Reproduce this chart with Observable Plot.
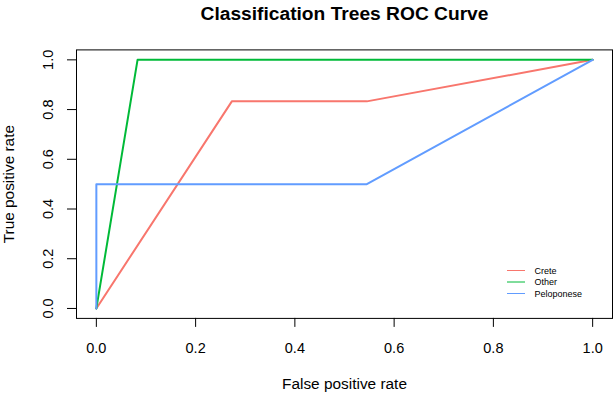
<!DOCTYPE html>
<html>
<head>
<meta charset="utf-8">
<script src="https://cdn.jsdelivr.net/npm/d3@7"></script>
<script src="https://cdn.jsdelivr.net/npm/@observablehq/plot@0.6"></script>
<style>
  html, body { margin: 0; padding: 0; background: #fff; }
  #wrap { position: relative; width: 615px; height: 396px; font-family: "Liberation Sans", Arial, sans-serif; }
  #legend { position: absolute; left: 0; top: 0; pointer-events: none; }
</style>
</head>
<body>
<div id="wrap"></div>
<script>
// ---- data ----
const series = ["Crete", "Other", "Peloponese"];
const colors = ["#F8766D", "#00BA38", "#619CFF"];
const creteFPR = [0, 0.273, 0.545, 1];
const creteTPR = [0, 0.833, 0.833, 1];
const otherFPR = [0, 0.083, 1];
const otherTPR = [0, 1, 1];
const peloFPR = [0, 0, 0.545, 1];
const peloTPR = [0, 0.5, 0.5, 1];
const xTicks = [0, 0.2, 0.4, 0.6, 0.8, 1.0];
const yTicks = [0, 0.2, 0.4, 0.6, 0.8, 1.0];
const title = "Classification Trees ROC Curve";
const xLabel = "False positive rate";
const yLabel = "True positive rate";

const rows = [];
[[creteFPR, creteTPR], [otherFPR, otherTPR], [peloFPR, peloTPR]].forEach(([fx, ty], i) => {
  fx.forEach((v, j) => rows.push({series: series[i], fpr: v, tpr: ty[j]}));
});

const font = "'Liberation Sans', Arial, Helvetica, sans-serif";

const chart = Plot.plot({
  width: 615,
  height: 396,
  marginLeft: 76,
  marginRight: 3,
  marginTop: 49.4,
  marginBottom: 78.1,
  style: {fontFamily: font, color: "black", background: "white", overflow: "visible"},
  x: {domain: [-0.04, 1.04], axis: null},
  y: {domain: [-0.04, 1.04], axis: null},
  color: {domain: series, range: colors},
  marks: [
    Plot.line(rows, {x: "fpr", y: "tpr", z: "series", stroke: "series", strokeWidth: 2, strokeLinejoin: "round", strokeLinecap: "round"}),
    Plot.frame({stroke: "black", strokeWidth: 1}),
    Plot.axisX(xTicks, {tickSize: 9, fill: "none", label: null, stroke: "black"}),
    Plot.axisY(yTicks, {tickSize: 9, fill: "none", label: null, stroke: "black"}),
    Plot.text(xTicks, {x: d => d, frameAnchor: "bottom", dy: 29.7, text: d => d.toFixed(1), fontSize: 14.5, lineAnchor: "middle", fill: "black"}),
    Plot.text(yTicks, {y: d => d, frameAnchor: "left", dx: -27.8, rotate: -90, text: d => d.toFixed(1), fontSize: 14.5, lineAnchor: "middle", textAnchor: "middle", fill: "black"}),
    Plot.text([title], {frameAnchor: "top", dy: -36.5, text: d => d, fontSize: 19.2, fontWeight: "bold", lineAnchor: "middle", fill: "black"}),
    Plot.text([xLabel], {frameAnchor: "bottom", dy: 65.7, text: d => d, fontSize: 15.4, lineAnchor: "middle", fill: "black"}),
    Plot.text([yLabel], {frameAnchor: "left", dx: -67.4, rotate: -90, text: d => d, fontSize: 15.4, lineAnchor: "middle", textAnchor: "middle", fill: "black"})
  ]
});

const wrap = document.getElementById("wrap");
wrap.appendChild(chart);

// legend overlay (no box), as in the R base legend
const ns = "http://www.w3.org/2000/svg";
const leg = document.createElementNS(ns, "svg");
leg.setAttribute("id", "legend");
leg.setAttribute("width", 615);
leg.setAttribute("height", 396);
const legY0 = 270.5, legStep = 11.5;
series.forEach((s, i) => {
  const y = legY0 + i * legStep;
  const ln = document.createElementNS(ns, "line");
  ln.setAttribute("x1", 507); ln.setAttribute("x2", 525);
  ln.setAttribute("y1", y); ln.setAttribute("y2", y);
  ln.setAttribute("stroke", colors[i]);
  ln.setAttribute("stroke-width", 1);
  leg.appendChild(ln);
  const t = document.createElementNS(ns, "text");
  t.setAttribute("x", 534.5);
  t.setAttribute("y", y);
  t.setAttribute("dy", "0.35em");
  t.setAttribute("font-size", 9);
  t.setAttribute("font-family", font);
  t.setAttribute("fill", "black");
  t.textContent = s;
  leg.appendChild(t);
});
wrap.appendChild(leg);
</script>
</body>
</html>
